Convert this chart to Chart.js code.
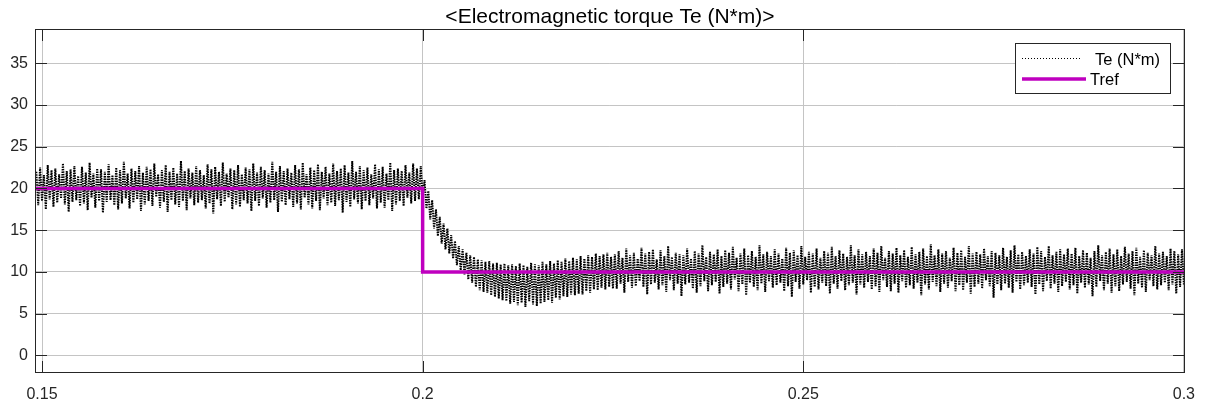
<!DOCTYPE html>
<html><head><meta charset="utf-8">
<script src="https://cdn.jsdelivr.net/npm/chart.js@4.4.1/dist/chart.umd.min.js"></script>
<style>html,body{margin:0;padding:0;background:#fff;}#wrap{width:1207px;height:406px;position:relative;}</style>
</head><body><div id="wrap"><canvas id="c" width="1207" height="406"></canvas></div>
<script>
const chartTitle = '<Electromagnetic torque Te (N*m)>';
const seriesNames = ['Te (N*m)', 'Tref'];
const xTicks = [0.15, 0.2, 0.25, 0.3];
const yTicks = [0, 5, 10, 15, 20, 25, 30, 35];
const xRange = [0.14921, 0.3];
const yRange = [-2.12, 39.0];

// Te samples: start time and sample interval
const teStart = 0.14925;
const teStep = 0.00025;
// 0.14925 .. 0.2
const teBefore = [
22.0,18.0,22.5,18.5,21.6,17.5,22.8,18.7,22.2,17.8,22.4,18.3,
21.7,18.8,23.0,18.1,22.1,17.2,22.3,18.4,22.7,18.6,21.5,17.9,
22.6,18.2,21.9,17.4,23.1,18.9,21.8,17.7,22.4,18.5,22.3,17.1,
22.0,18.4,22.9,18.6,21.6,18.0,22.5,17.5,22.2,18.2,23.2,18.8,
21.8,17.6,22.4,18.3,22.1,18.7,22.7,17.3,21.9,18.1,22.6,18.5,
22.3,17.9,23.0,19.0,21.7,17.7,22.2,18.4,22.8,17.2,22.0,18.6,
22.5,18.1,21.8,17.8,23.3,18.5,22.1,17.4,22.4,18.8,21.9,18.0,
22.7,18.3,22.2,18.6,21.6,17.6,22.9,18.2,22.3,17.0,22.6,18.7,
22.0,17.9,23.1,18.4,21.8,18.9,22.4,17.5,22.2,18.1,22.8,17.8,
21.7,18.6,22.5,18.2,22.3,17.3,23.0,18.5,21.9,17.9,22.6,18.8,
22.2,17.7,21.8,18.3,23.2,18.6,22.0,17.2,22.7,18.4,22.1,18.0,
22.4,18.7,21.9,17.8,22.8,18.2,22.3,17.5,23.1,18.9,21.7,18.1,
22.5,17.6,22.2,18.5,22.9,17.4,22.0,18.8,22.6,18.0,21.8,18.3,
23.0,17.9,22.1,18.6,22.4,17.1,22.8,18.4,21.9,17.8,23.3,18.7,
22.0,18.2,22.7,17.5,22.2,18.5,22.5,18.0,21.7,18.8,22.9,17.6,
22.3,18.3,22.6,17.7,21.8,18.6,23.1,17.3,22.2,18.1,22.4,18.5,
22.1,17.9,22.8,18.9,21.9,18.2,23.0,18.5,22.4,18.7,22.7,19.0
];
// 0.20025 .. 0.225
const teTransient = [
21.0,17.6,19.7,16.3,18.6,15.2,17.5,14.3,16.6,13.4,
15.8,12.7,15.2,12.2,14.4,11.6,13.7,10.8,13.1,10.2,
12.7,9.7,12.3,9.1,12.0,8.7,11.8,8.2,11.5,7.8,
11.4,7.6,11.2,7.5,11.3,7.2,11.0,7.0,11.1,6.8,
10.9,6.6,11.0,6.5,10.8,6.2,10.9,6.4,10.7,6.0,
11.0,6.3,10.8,5.8,10.6,6.5,11.1,6.1,10.9,5.9,
10.8,6.2,11.2,6.4,10.9,6.6,11.3,6.3,11.0,6.9,
11.4,6.7,11.2,7.1,11.6,7.0,11.3,7.3,11.7,7.2,
11.5,7.4,11.9,7.3,11.6,7.7,12.0,7.5,11.8,7.9,
12.2,7.8,11.9,8.1,12.1,7.9,12.3,8.2,11.8,8.0
];
// 0.22525 .. 0.3
const teAfter = [
12.1,8.0,12.5,8.6,11.7,7.5,12.8,8.8,12.0,8.1,12.3,8.3,
11.6,8.9,12.9,8.2,12.2,7.3,12.4,8.5,12.7,8.7,11.5,7.9,
12.6,8.4,11.9,7.6,13.1,9.0,11.8,7.8,12.3,8.6,12.1,7.1,
12.0,8.5,12.8,8.7,11.6,8.0,12.5,7.5,12.2,8.3,13.2,8.9,
11.8,7.7,12.4,8.4,12.1,8.8,12.7,7.4,11.9,8.2,12.6,8.6,
12.3,7.9,13.0,9.1,11.7,7.7,12.2,8.5,12.8,7.2,12.0,8.7,
12.5,8.2,11.8,7.8,13.2,8.6,12.1,7.6,12.4,8.9,11.9,8.1,
12.7,8.4,12.2,8.7,11.6,7.7,12.9,8.3,12.3,7.0,12.6,8.8,
12.0,8.0,13.1,8.5,11.8,9.0,12.4,7.5,12.2,8.2,12.8,7.9,
11.7,8.7,12.5,8.3,12.3,7.4,13.0,8.6,11.9,8.0,12.6,8.9,
12.2,7.8,11.8,8.4,13.2,8.7,12.0,7.3,12.7,8.5,12.1,8.1,
12.4,8.8,11.9,7.9,12.8,8.3,12.3,7.6,13.1,9.0,11.7,8.2,
12.5,7.7,12.2,8.6,12.9,7.5,12.0,8.9,12.6,8.1,11.8,8.4,
13.0,8.0,12.1,8.7,12.4,7.2,12.8,8.5,11.9,7.9,13.3,8.8,
12.0,8.3,12.7,7.6,12.2,8.6,12.5,8.1,11.7,8.9,12.9,7.7,
12.3,8.4,12.6,7.8,11.8,8.7,13.1,7.4,12.2,8.2,12.4,8.6,
12.1,8.0,12.8,9.0,11.9,8.3,12.5,6.9,12.3,8.5,12.0,7.8,
12.9,8.6,11.8,8.1,12.6,7.5,13.2,8.8,12.1,7.9,12.4,8.4,
11.9,8.7,12.7,8.2,12.2,7.3,13.0,8.5,12.5,7.7,11.8,8.9,
13.1,8.0,12.0,8.6,12.4,7.6,12.7,8.3,12.1,8.8,12.8,7.9,
12.2,8.4,12.9,7.4,11.9,8.7,12.6,8.1,12.3,8.5,11.7,7.1,
12.5,8.2,13.2,8.9,12.0,7.8,12.4,8.6,12.8,7.5,12.1,8.3,
12.7,7.7,11.9,8.5,13.0,8.8,12.2,8.0,12.5,7.2,12.9,8.6,
11.8,8.1,12.6,7.6,12.3,9.0,12.0,8.3,13.1,7.9,12.2,8.4,
12.4,8.7,11.9,7.8,12.8,8.5,12.5,7.4,12.1,8.2,12.7,8.5
];
const trefTime = [0.14921, 0.2, 0.2, 0.3];
const trefValue = [20, 20, 10, 10];

const FONT = '"Liberation Sans", Arial, Helvetica, sans-serif';
const AXIS_COLOR = '#262626';

const teValues = [...teBefore, ...teTransient, ...teAfter];
const teData = teValues.map((v, i) => ({x: teStart + i * teStep, y: v}));
const trefData = trefTime.map((t, i) => ({x: t, y: trefValue[i]}));

const decorPlugin = {
  id: 'decor',
  afterDraw(chart) {
    const ctx = chart.ctx;
    const {left, right, top, bottom} = chart.chartArea;
    const xs = chart.scales.x, ys = chart.scales.y;
    ctx.save();
    ctx.strokeStyle = AXIS_COLOR;
    ctx.lineWidth = 1;
    ctx.setLineDash([]);
    const L = Math.round(left) - 0.5, R = Math.round(right) + 0.5;
    const T = Math.round(top) - 0.5, B = Math.round(bottom) - 0.5;
    ctx.strokeRect(L, T, R - L, B - T);
    const tl = 11.5;
    ctx.beginPath();
    xTicks.forEach(v => {
      const px = Math.round(xs.getPixelForValue(v)) + 0.5;
      ctx.moveTo(px, B); ctx.lineTo(px, B - tl);
      ctx.moveTo(px, T); ctx.lineTo(px, T + tl);
    });
    yTicks.forEach(v => {
      const py = Math.round(ys.getPixelForValue(v)) + 0.5;
      ctx.moveTo(L, py); ctx.lineTo(L + tl, py);
      ctx.moveTo(R, py); ctx.lineTo(R - tl, py);
    });
    ctx.stroke();
    // title
    ctx.fillStyle = '#000';
    ctx.font = '21px ' + FONT;
    ctx.textAlign = 'center';
    ctx.textBaseline = 'middle';
    ctx.fillText(chartTitle, (left + right) / 2, 17);
    // legend
    const lx0 = 1015.5, ly0 = 43.5, lw = 155, lh = 50;
    ctx.fillStyle = '#fff';
    ctx.fillRect(lx0, ly0, lw, lh);
    ctx.strokeStyle = AXIS_COLOR;
    ctx.lineWidth = 1;
    ctx.strokeRect(lx0, ly0, lw, lh);
    const items = [
      {ds: chart.data.datasets[0], y: 58.5, x1: 1022, x2: 1081, tx: 1095, dash: [1, 2], w: 1},
      {ds: chart.data.datasets[1], y: 79, x1: 1022, x2: 1086, tx: 1090, dash: [], w: 3.5}
    ];
    items.forEach(it => {
      ctx.beginPath();
      ctx.strokeStyle = it.ds.borderColor;
      ctx.lineWidth = it.w;
      ctx.setLineDash(it.dash);
      ctx.moveTo(it.x1, it.y); ctx.lineTo(it.x2, it.y);
      ctx.stroke();
      ctx.setLineDash([]);
      ctx.fillStyle = '#000';
      ctx.font = '16.5px ' + FONT;
      ctx.textAlign = 'left';
      ctx.textBaseline = 'middle';
      ctx.fillText(it.ds.label, it.tx, Math.round(it.y) + 1);
    });
    ctx.restore();
  }
};

new Chart(document.getElementById('c'), {
  type: 'line',
  data: {
    datasets: [
      {label: seriesNames[0], data: teData, borderColor: '#000000', borderWidth: 2,
       borderDash: [1.5, 1], pointRadius: 0, tension: 0, order: 2},
      {label: seriesNames[1], data: trefData, borderColor: '#BF00BF', borderWidth: 3.5,
       pointRadius: 0, tension: 0, order: 1, borderJoinStyle: 'miter'}
    ]
  },
  options: {
    responsive: false,
    animation: false,
    devicePixelRatio: 1,
    parsing: false,
    normalized: true,
    layout: {padding: {top: 30, right: 20, left: 0, bottom: 0}},
    plugins: {legend: {display: false}, tooltip: {enabled: false}, title: {display: false}},
    scales: {
      x: {
        type: 'linear', min: xRange[0], max: xRange[1],
        afterBuildTicks: s => { s.ticks = xTicks.map(v => ({value: v})); },
        afterFit: s => { s.height = 33; },
        ticks: {padding: 12, color: AXIS_COLOR, font: {family: FONT, size: 16},
                maxRotation: 0, autoSkip: false, callback: v => String(v)},
        grid: {color: '#c4c4c4', lineWidth: 1, drawTicks: false},
        border: {display: false}
      },
      y: {
        type: 'linear', min: yRange[0], max: yRange[1],
        afterBuildTicks: s => { s.ticks = yTicks.map(v => ({value: v})); },
        afterFit: s => { s.width = 36; },
        ticks: {padding: 8, color: AXIS_COLOR, font: {family: FONT, size: 16},
                autoSkip: false, callback: v => String(v)},
        grid: {color: '#c4c4c4', lineWidth: 1, drawTicks: false},
        border: {display: false}
      }
    }
  },
  plugins: [decorPlugin]
});
</script>
</body></html>
